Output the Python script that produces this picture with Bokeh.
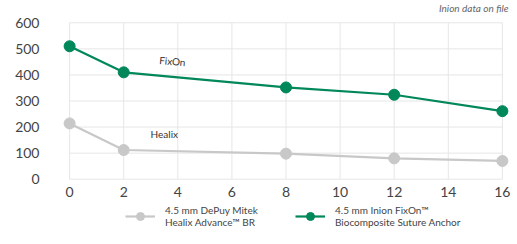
from bokeh.plotting import figure
from bokeh.layouts import column
from bokeh.models import (ColumnDataSource, FixedTicker, Legend, LegendItem, Range1d, Label)
from bokeh.embed import file_html
from bokeh.resources import INLINE

weeks = [0, 2, 8, 12, 16]
healix = [214, 112, 98, 80, 70]
fixon = [510, 410, 352, 324, 261]
x_ticks = [0, 2, 4, 6, 8, 10, 12, 14, 16]
y_ticks = [0, 100, 200, 300, 400, 500, 600]
healix_label = "4.5 mm DePuy Mitek\nHealix Advance\u2122 BR"
fixon_label = "4.5 mm Inion FixOn\u2122\nBiocomposite Suture Anchor"
note = "Inion data on file"

GREEN = "#00875A"
GRAY = "#C8C8C8"
FONT = "Lato"
FW, LB, RB = 449, 61, 3


def bare(fig):
    fig.outline_line_color = None
    fig.xgrid.visible = False
    fig.ygrid.visible = False
    return fig


# note strip on top
top = bare(figure(frame_width=FW, frame_height=13, output_backend="svg", toolbar_location=None,
                  min_border_left=LB, min_border_right=RB, min_border_top=0, min_border_bottom=0,
                  x_axis_type=None, y_axis_type=None, x_range=Range1d(0, 1), y_range=Range1d(0, 1)))
top.add_layout(Label(x=FW - 2, y=6, x_units="screen", y_units="screen", text=note,
                     text_font=FONT, text_font_size="10px", text_font_style="italic",
                     text_color="#666666", text_align="right", text_baseline="middle"))

# main chart
p = bare(figure(frame_width=FW, frame_height=159, output_backend="svg", toolbar_location=None,
                x_range=Range1d(-0.3, 16.3), y_range=Range1d(-5, 605),
                min_border_left=LB, min_border_right=RB, min_border_top=8, min_border_bottom=20))

p.segment(x0=x_ticks, x1=x_ticks, y0=[y_ticks[0]] * len(x_ticks), y1=[y_ticks[-1]] * len(x_ticks),
          line_color="#E6E6E6", line_width=1)
p.segment(x0=[x_ticks[0]] * len(y_ticks), x1=[x_ticks[-1]] * len(y_ticks), y0=y_ticks, y1=y_ticks,
          line_color="#E6E6E6", line_width=1)

src = ColumnDataSource(dict(w=weeks, h=healix, f=fixon))
p.line("w", "h", source=src, line_color=GRAY, line_width=2.2)
p.scatter("w", "h", source=src, size=11, fill_color=GRAY, line_color=GRAY)
p.line("w", "f", source=src, line_color=GREEN, line_width=2.2)
p.scatter("w", "f", source=src, size=11, fill_color=GREEN, line_color=GREEN)

for ax in (p.xaxis[0], p.yaxis[0]):
    ax.axis_line_color = None
    ax.major_tick_line_color = None
    ax.minor_tick_line_color = None
    ax.major_tick_out = 0
    ax.major_tick_in = 0
    ax.major_label_text_font = FONT
    ax.major_label_text_font_size = "14px"
    ax.major_label_text_color = "#444444"
p.xaxis.ticker = FixedTicker(ticks=x_ticks)
p.yaxis.ticker = FixedTicker(ticks=y_ticks)
p.yaxis.major_label_standoff = 22
p.xaxis.major_label_standoff = 6

p.add_layout(Label(x=3.8, y=453, text="FixOn", text_font=FONT, text_font_size="10px",
                   text_color="#333333", text_align="center", text_baseline="middle",
                   angle=-0.09))
p.add_layout(Label(x=3.5, y=174, text="Healix", text_font=FONT, text_font_size="10px",
                   text_color="#333333", text_align="center", text_baseline="middle"))

# legend strip below the chart
lg = bare(figure(frame_width=FW, frame_height=38, output_backend="svg", toolbar_location=None,
                 min_border_left=LB, min_border_right=RB, min_border_top=0, min_border_bottom=0,
                 x_axis_type=None, y_axis_type=None, x_range=Range1d(0, 1), y_range=Range1d(0, 1)))
dummy = ColumnDataSource(dict(x=[-10], y=[-10]))
r1 = lg.line("x", "y", source=dummy, line_color=GRAY, line_width=2.2)
r2 = lg.scatter("x", "y", source=dummy, size=11, fill_color=GRAY, line_color=GRAY)
r3 = lg.line("x", "y", source=dummy, line_color=GREEN, line_width=2.2)
r4 = lg.scatter("x", "y", source=dummy, size=11, fill_color=GREEN, line_color=GREEN)
legend = Legend(items=[LegendItem(label=healix_label, renderers=[r1, r2]),
                       LegendItem(label=fixon_label, renderers=[r3, r4])],
                orientation="horizontal", location=(64, 10),
                padding=0, margin=0, spacing=35, glyph_width=30, label_standoff=10,
                label_width=95, label_text_font=FONT, label_text_font_size="10px",
                label_text_line_height=1.3,
                label_text_color="#444444", border_line_color=None, background_fill_alpha=0)
lg.add_layout(legend, "center")

layout = column(top, p, lg, spacing=0)
open("out.html", "w").write(file_html(layout, INLINE))
